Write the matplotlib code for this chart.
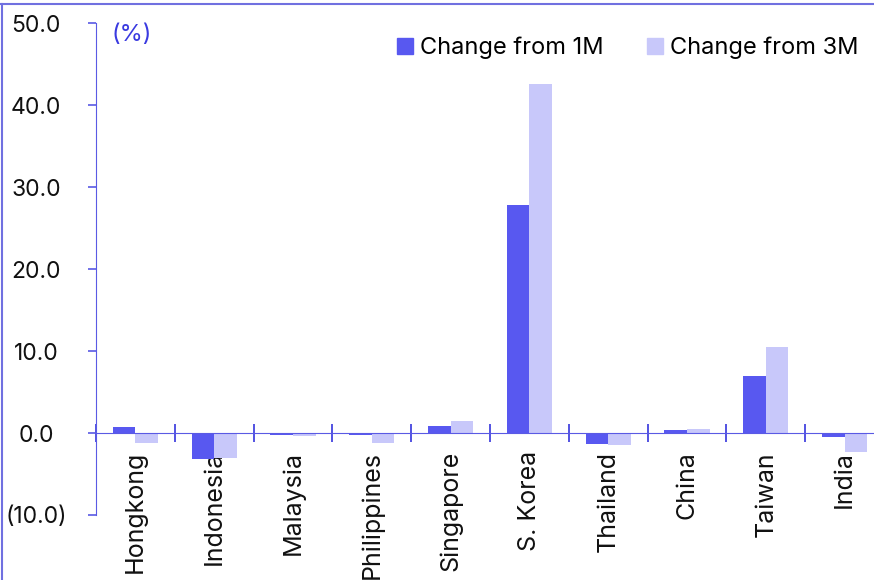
import matplotlib
matplotlib.use("Agg")
import matplotlib.pyplot as plt
from matplotlib.lines import Line2D
from matplotlib.patches import Patch
import numpy as np

plt.rcParams['font.family'] = ['Inter', 'DejaVu Sans']

# data (% change)
countries = ["Hongkong", "Indonesia", "Malaysia", "Philippines", "Singapore",
             "S. Korea", "Thailand", "China", "Taiwan", "India"]
chg_1m = [0.7, -3.2, -0.2, -0.3, 0.85, 27.8, -1.3, 0.4, 7.0, -0.5]
chg_3m = [-1.2, -3.1, -0.4, -1.2, 1.5, 42.6, -1.5, 0.5, 10.5, -2.3]
yticks = [-10, 0, 10, 20, 30, 40, 50]
ytick_labels = ["(10.0)", "0.0", "10.0", "20.0", "30.0", "40.0", "50.0"]

c_1m = "#5858F0"
c_3m = "#C8C8FA"
c_axis = "#5A5AE4"

fig = plt.figure(figsize=(8.74, 5.8), dpi=100)
ax = fig.add_axes([96/874, 65/580, 788/874, 492/580])

x = np.arange(len(countries))
w = 0.286
ax.bar(x - w/2, chg_1m, width=w, color=c_1m, zorder=2)
ax.bar(x + w/2, chg_3m, width=w, color=c_3m, zorder=2)

ax.set_xlim(-0.5, len(countries) - 0.5)
ax.set_ylim(-10, 50)

for s in ["top", "right"]:
    ax.spines[s].set_visible(False)
ax.spines["left"].set_color(c_axis)
ax.spines["bottom"].set_color(c_axis)
ax.spines["bottom"].set_position(("data", 0))
ax.spines["bottom"].set_zorder(3)

# y axis
ax.set_yticks(yticks)
ax.set_yticklabels(ytick_labels)
ax.tick_params(axis="y", direction="out", length=5.8, width=1.2, color=c_axis,
               labelsize=16.5, pad=37.4, labelcolor="#111111")
for lab in ax.get_yticklabels():
    lab.set_horizontalalignment("center")

# x axis: labels at centres, tick marks at boundaries
ax.set_xticks(x)
ax.set_xticklabels(countries, rotation=90, fontsize=18, color="#111111")
ax.tick_params(axis="x", which="major", length=0, pad=13)
ax.set_xticks(np.arange(len(countries) + 1) - 0.5, minor=True)
ax.tick_params(axis="x", which="minor", direction="inout", length=12.5,
               width=1.2, color="#3535DD")

ax.text(111/874, 1 - 35/580, "(%)", transform=fig.transFigure, fontsize=17,
        color="#3A3AE0", va="center", ha="left")

handles = [Patch(color=c_1m, label="Change from 1M"),
           Patch(color=c_3m, label="Change from 3M")]
ax.legend(handles=handles, loc="center left", bbox_to_anchor=(392/874, 1 - 48/580),
          bbox_transform=fig.transFigure, ncol=2, frameon=False, fontsize=17,
          handlelength=0.68, handleheight=0.68, handletextpad=0.3,
          columnspacing=1.85, borderaxespad=0, borderpad=0.2)

# frame around the figure (top and left edges visible)
fig.add_artist(Line2D([0, 1], [1 - 4/580, 1 - 4/580], transform=fig.transFigure,
                      color="#7070E0", lw=1.5))
fig.add_artist(Line2D([1.5/874, 1.5/874], [0, 1 - 4/580], transform=fig.transFigure,
                      color="#7070E0", lw=1.5))

fig.savefig("out.png", dpi=100)
